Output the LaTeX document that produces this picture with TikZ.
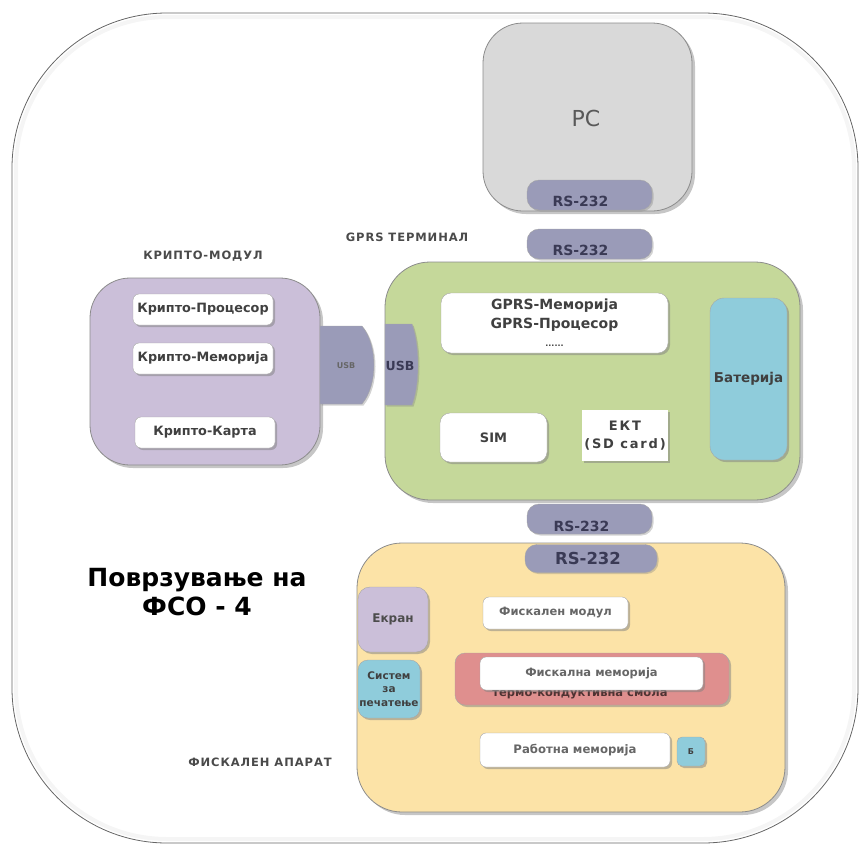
\documentclass[tikz,border=0pt]{standalone}
\usepackage{fontspec}
\setmainfont{DejaVu Sans}
\newfontfamily\capsfont[LetterSpace=8]{DejaVu Sans}
\newfontfamily\spacedfont[LetterSpace=14]{DejaVu Sans}
\usetikzlibrary{shadows}

\definecolor{pcgray}{HTML}{D9D9D9}
\definecolor{portblue}{HTML}{9A9BB8}
\definecolor{gprsgreen}{HTML}{C5D89A}
\definecolor{cryptolila}{HTML}{CBBFD9}
\definecolor{battblue}{HTML}{8FCCDB}
\definecolor{fiscyellow}{HTML}{FCE3A7}
\definecolor{resinred}{HTML}{DF8F8E}
\definecolor{labelgray}{HTML}{4A4A4A}
\definecolor{porttextcol}{HTML}{3A3A55}

\tikzset{
  device/.style={draw=black!45, line width=0.8pt, inner sep=0pt,
    drop shadow={shadow xshift=3pt, shadow yshift=-3pt, opacity=.45}},
  part/.style={fill=white, draw=black!35, rounded corners=6pt, inner sep=0pt, align=center,
    text=black!75, font=\bfseries\fontsize{12.8}{15}\selectfont,
    drop shadow={shadow xshift=2pt, shadow yshift=-2pt, opacity=.5}},
  port/.style={fill=portblue, draw=black!35, rounded corners=12pt, inner sep=0pt,
    drop shadow={shadow xshift=1.5pt, shadow yshift=-1.5pt, opacity=.35}},
  porttext/.style={text=porttextcol, font=\bfseries\fontsize{14}{16}\selectfont},
  caption/.style={text=labelgray, font=\capsfont\bfseries\fontsize{11.5}{13}\selectfont}
}

\begin{document}
\begin{tikzpicture}[x=1pt, y=-1pt]
\useasboundingbox (0,0) rectangle (862,846);

% outer frame
\draw[black!4, line width=4pt, rounded corners=151pt] (16,17) rectangle (854,839);
\draw[black!60, line width=0.8pt, rounded corners=155pt] (12,13) rectangle (858,843);

% PC
\node[device, fill=pcgray, rounded corners=40pt, minimum width=209pt, minimum height=188pt] (pc) at (587.5,117) {};
\node[text=black!65, font=\fontsize{22}{26}\selectfont] (pclabel) at (586,118) {PC};
\node[port, minimum width=125pt, minimum height=30pt] (pcport) at (589.5,195) {};
\node[porttext] (pcporttext) at ([xshift=-9pt, yshift=-6pt]pcport.center) {RS-232};

% GPRS terminal
\node[caption] (gprscap) at (407,237) {GPRS ТЕРМИНАЛ};
\node[device, fill=gprsgreen, rounded corners=45pt, minimum width=415pt, minimum height=238pt] (gprs) at (592.5,381) {};
\node[port, minimum width=125pt, minimum height=30pt] (gprsportup) at (589.5,244) {};
\node[porttext] (gprsportuptext) at ([xshift=-9pt, yshift=-6pt]gprsportup.center) {RS-232};
\node[part, rounded corners=10pt, minimum width=227pt, minimum height=60pt, font=\bfseries\fontsize{14}{18.5}\selectfont] (gprscore) at (554.5,323)
  {GPRS-Меморија\\GPRS-Процесор\\{\fontsize{8}{10}\selectfont ......}};
\node[part, fill=battblue, rounded corners=14pt, minimum width=77pt, minimum height=162pt, font=\bfseries\fontsize{13.5}{16}\selectfont] (battery) at (748.5,379) {Батерија};
\node[part, rounded corners=10pt, minimum width=107pt, minimum height=49pt, font=\bfseries\fontsize{13}{15}\selectfont] (sim) at (493.5,437.5) {SIM};
\node[part, draw=none, rounded corners=0pt, minimum width=86pt, minimum height=51pt, font=\spacedfont\bfseries\fontsize{13}{18}\selectfont] (ekt) at (625,435.5) {ЕКТ\\(SD card)};

% usb plug on the terminal
\fill[portblue, draw=black!35, drop shadow={shadow xshift=1.5pt, shadow yshift=-1.5pt, opacity=.35}]
  (385,324) -- (412,324) .. controls (420,345) and (420,385) .. (412,405) -- (385,405) -- cycle;
\node[porttext, font=\bfseries\fontsize{12.5}{14}\selectfont] (usbgprs) at (400,366) {USB};

% crypto module
\node[caption] (cryptocap) at (203,256) {КРИПТО-МОДУЛ};
\node[device, fill=cryptolila, rounded corners=40pt, minimum width=230pt, minimum height=187pt] (crypto) at (205,371.5) {};
\node[part, minimum width=140pt, minimum height=31pt] (cproc) at (203,309.5) {Крипто-Процесор};
\node[part, minimum width=140pt, minimum height=31pt] (cmem) at (203,358.5) {Крипто-Меморија};
\node[part, minimum width=140pt, minimum height=31pt] (ccard) at (205,432.5) {Крипто-Карта};

% usb plug on the crypto module
\fill[portblue, draw=black!35, drop shadow={shadow xshift=1.5pt, shadow yshift=-1.5pt, opacity=.35}]
  (320,326) -- (362,326) .. controls (378,345) and (378,385) .. (362,404) -- (320,404) -- cycle;
\node[porttext, text=black!60, font=\bfseries\fontsize{8}{10}\selectfont] (usbcrypto) at (346,366) {USB};

% link between terminal and fiscal device
\node[port, minimum width=125pt, minimum height=30pt] (gprsportdown) at (589.5,519) {};
\node[porttext] (gprsportdowntext) at ([xshift=-8pt, yshift=-7pt]gprsportdown.center) {RS-232};

% fiscal device
\node[device, fill=fiscyellow, rounded corners=45pt, minimum width=428pt, minimum height=269pt] (fiscal) at (571,677.5) {};
\node[port, minimum width=132pt, minimum height=28pt] (fiscport) at (591,558.5) {};
\node[porttext, font=\bfseries\fontsize{16.5}{18}\selectfont] (fiscporttext) at ([xshift=-3pt]fiscport.center) {RS-232};
\node[part, fill=cryptolila, rounded corners=12pt, minimum width=70pt, minimum height=65pt, text=black!70, font=\bfseries\fontsize{12}{14}\selectfont] (screen) at (393,619.5) {Екран};
\node[part, fill=battblue, rounded corners=10pt, minimum width=62pt, minimum height=58pt, font=\bfseries\fontsize{10.5}{13.5}\selectfont] (printer) at (389,689) {Систем\\за\\печатење};
\node[part, minimum width=145pt, minimum height=32pt, text=black!60, font=\bfseries\fontsize{11.5}{13}\selectfont] (fmodule) at (555.5,613) {Фискален модул};
\node[part, fill=resinred, rounded corners=10pt, minimum width=274pt, minimum height=52pt] (resin) at (592,679) {};
\node[text=resinred!35!black, font=\bfseries\fontsize{11.5}{13}\selectfont] (resintext) at (580,695) {термо-кондуктивна смола};
\node[part, minimum width=223pt, minimum height=33pt, text=black!60, font=\bfseries\fontsize{11.5}{13}\selectfont] (fmem) at (591.5,673.5) {Фискална меморија};
\node[part, minimum width=190pt, minimum height=34pt, text=black!60, font=\bfseries\fontsize{11.7}{13}\selectfont] (wmem) at (575,750) {Работна меморија};
\node[part, fill=battblue, rounded corners=5pt, minimum width=28pt, minimum height=29pt, font=\bfseries\fontsize{8}{10}\selectfont] (bat) at (691,751.5) {Б};
\node[caption] (fiscalcap) at (260,762) {ФИСКАЛЕН АПАРАТ};

% title
\node[align=center, font=\bfseries\fontsize{25}{29}\selectfont] (title) at (197,592) {Поврзување на\\ФСО - 4};

\end{tikzpicture}
\end{document}
